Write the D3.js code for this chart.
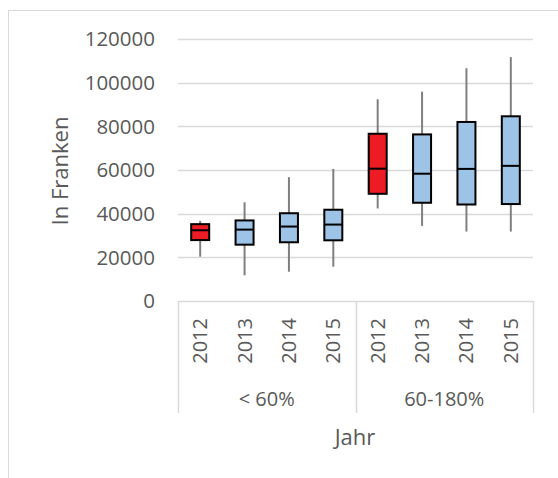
<!DOCTYPE html>
<html>
<head>
<meta charset="utf-8">
<script src="https://cdn.jsdelivr.net/npm/d3@7"></script>
<style>
  body { margin: 0; background: #fff; }
  svg text { font-family: "Open Sans", sans-serif; fill: #595959; }
</style>
</head>
<body>
<svg id="chart" width="558" height="478"></svg>
<script>
// box plot data
const groups = ["< 60%", "60-180%"];
const years = ["2012", "2013", "2014", "2015"];
const whiskerLow  = [20300, 11800, 13400, 15700, 42400, 34400, 31800, 31800];
const boxLow      = [27900, 25800, 26900, 27800, 49100, 45000, 44200, 44400];
const medians     = [32400, 32700, 34100, 35000, 60600, 58300, 60500, 61900];
const boxHigh     = [35200, 36900, 40200, 41800, 76600, 76300, 82000, 84600];
const whiskerHigh = [36700, 45200, 56700, 60500, 92400, 95900, 106600, 111700];
const highlight   = [true, false, false, false, true, false, false, false];
const yTicks = [0, 20000, 40000, 60000, 80000, 100000, 120000];

const svg = d3.select("#chart");

// outer chart frame (runs off the right and bottom edge)
svg.append("rect")
  .attr("x", 8.5).attr("y", 10.5)
  .attr("width", 600).attr("height", 600)
  .attr("fill", "none").attr("stroke", "#d9d9d9").attr("stroke-width", 1);

const plotLeft = 178, plotRight = 533, plotTop = 39, plotBottom = 301;

const cats = [];
groups.forEach(g => years.forEach(yr => cats.push(g + "|" + yr)));

const x = d3.scaleBand().domain(cats).range([plotLeft, plotRight]);
const y = d3.scaleLinear().domain([0, 120000]).range([plotBottom, plotTop]);

// gridlines
svg.append("g").selectAll("line").data(yTicks).join("line")
  .attr("x1", plotLeft).attr("x2", plotRight)
  .attr("y1", d => Math.round(y(d)) + 0.5)
  .attr("y2", d => Math.round(y(d)) + 0.5)
  .attr("stroke", "#d9d9d9").attr("stroke-width", 1.5);

// y tick labels
svg.append("g").selectAll("text").data(yTicks).join("text")
  .attr("x", 155)
  .attr("y", d => y(d))
  .attr("dy", "0.35em")
  .attr("text-anchor", "end")
  .attr("font-size", 20.5)
  .text(d => d);

// y title
svg.append("text")
  .attr("transform", "translate(68,171) rotate(-90)")
  .attr("text-anchor", "middle")
  .attr("font-size", 22)
  .text("In Franken");

// category axis frame
const axisBottom = 413;
const gx = d3.scaleBand().domain(groups).range([plotLeft, plotRight]);
const divs = [plotLeft, gx("60-180%"), plotRight];
svg.append("g").selectAll("line").data(divs).join("line")
  .attr("x1", d => Math.round(d) + 0.5).attr("x2", d => Math.round(d) + 0.5)
  .attr("y1", plotBottom).attr("y2", axisBottom)
  .attr("stroke", "#d9d9d9").attr("stroke-width", 1.5);

// year labels (rotated)
svg.append("g").selectAll("text").data(cats).join("text")
  .attr("transform", d => "translate(" + (x(d) + x.bandwidth() / 2 + 7) + ",318) rotate(-90)")
  .attr("text-anchor", "end")
  .attr("font-size", 20)
  .text(d => d.split("|")[1]);

// group labels
svg.append("g").selectAll("text").data(groups).join("text")
  .attr("x", d => gx(d) + gx.bandwidth() / 2)
  .attr("y", 399)
  .attr("dy", "0.35em")
  .attr("text-anchor", "middle")
  .attr("font-size", 20)
  .text(d => d);

// x title
svg.append("text")
  .attr("x", 355).attr("y", 437)
  .attr("dy", "0.35em")
  .attr("text-anchor", "middle")
  .attr("font-size", 22)
  .text("Jahr");

// boxes
const boxW = 18;
const boxes = svg.append("g").selectAll("g").data(cats).join("g")
  .attr("transform", d => "translate(" + (x(d) + x.bandwidth() / 2) + ",0)");

boxes.append("line")
  .attr("y1", (d, i) => y(whiskerHigh[i]))
  .attr("y2", (d, i) => y(whiskerLow[i]))
  .attr("stroke", "#7f7f7f").attr("stroke-width", 2);

boxes.append("rect")
  .attr("x", -boxW / 2)
  .attr("y", (d, i) => y(boxHigh[i]))
  .attr("width", boxW)
  .attr("height", (d, i) => y(boxLow[i]) - y(boxHigh[i]))
  .attr("fill", (d, i) => highlight[i] ? "#ed1c24" : "#9dc3e6")
  .attr("stroke", "#000").attr("stroke-width", 2);

boxes.append("line")
  .attr("x1", -boxW / 2).attr("x2", boxW / 2)
  .attr("y1", (d, i) => y(medians[i]))
  .attr("y2", (d, i) => y(medians[i]))
  .attr("stroke", "#000").attr("stroke-width", 2);
</script>
</body>
</html>
